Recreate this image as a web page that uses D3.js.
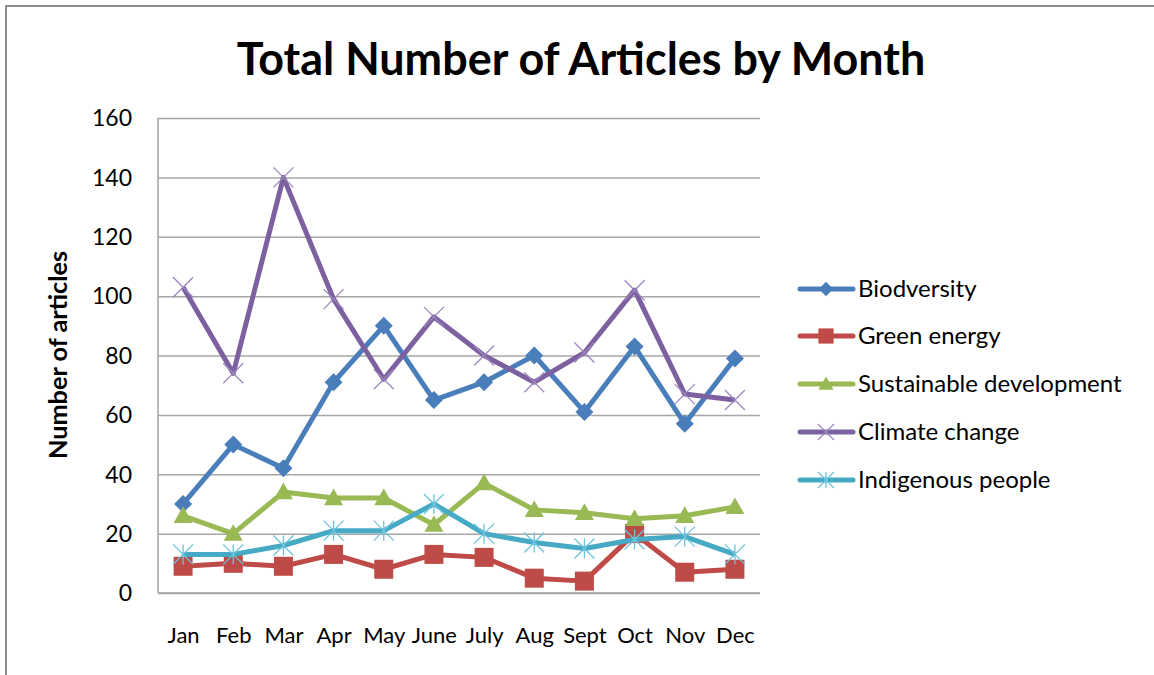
<!DOCTYPE html>
<html>
<head>
<meta charset="utf-8">
<script src="https://cdn.jsdelivr.net/npm/d3@7"></script>
<style>
  html, body { margin: 0; padding: 0; background: #fff; }
  svg { display: block; }
  text { font-family: Lato, "Open Sans", sans-serif; fill: #000; }
</style>
</head>
<body>
<svg id="chart" width="1154" height="675"></svg>
<script>
const months = ["Jan","Feb","Mar","Apr","May","June","July","Aug","Sept","Oct","Nov","Dec"];
const seriesNames = ["Biodversity","Green energy","Sustainable development","Climate change","Indigenous people"];
const biodiversity = [30, 50, 42, 71, 90, 65, 71, 80, 61, 83, 57, 79];
const greenEnergy = [9, 10, 9, 13, 8, 13, 12, 5, 4, 20, 7, 8];
const sustainableDevelopment = [26, 20, 34, 32, 32, 23, 37, 28, 27, 25, 26, 29];
const climateChange = [103, 74, 140, 99, 72, 93, 80, 71, 81, 102, 67, 65];
const indigenousPeople = [13, 13, 16, 21, 21, 30, 20, 17, 15, 18, 19, 13];
const yTicks = [0, 20, 40, 60, 80, 100, 120, 140, 160];
const titleText = "Total Number of Articles by Month";
const yTitle = "Number of articles";

const seriesValues = [biodiversity, greenEnergy, sustainableDevelopment, climateChange, indigenousPeople];
const colors = ["#4A7EBB", "#BE4B48", "#98B954", "#7D60A0", "#46AAC5"];
const markerColors = ["#4A7EBB", "#BE4B48", "#98B954", "#9C88BE", "#6CC3DC"];
const markerTypes = ["diamond", "square", "triangle", "x", "star"];

const svg = d3.select("#chart");
const plot = { left: 158, right: 760, top: 118, bottom: 593 };

// outer frame
svg.append("line").attr("x1", 5).attr("x2", 1154).attr("y1", 6).attr("y2", 6)
  .attr("stroke", "#8c8c8c").attr("stroke-width", 2);
svg.append("line").attr("x1", 6).attr("x2", 6).attr("y1", 5).attr("y2", 675)
  .attr("stroke", "#8c8c8c").attr("stroke-width", 2);

const x = d3.scalePoint().domain(months).range([plot.left, plot.right]).padding(0.5);
const y = d3.scaleLinear().domain([0, 160]).range([plot.bottom, plot.top]);

// gridlines + y axis
const yAxis = d3.axisLeft(y).tickValues(yTicks).tickSize(-(plot.right - plot.left)).tickPadding(26);
const gy = svg.append("g").attr("transform", `translate(${plot.left},0)`).call(yAxis);
gy.select(".domain").remove();
gy.selectAll(".tick line").attr("stroke", "#a6a6a6").attr("stroke-width", 1.5);
gy.selectAll(".tick text").style("font-size", "23px").attr("fill", "#000").attr("dy", "0.34em");

// left axis line
svg.append("line").attr("x1", plot.left).attr("x2", plot.left).attr("y1", plot.top).attr("y2", plot.bottom)
  .attr("stroke", "#a0a0a0").attr("stroke-width", 1.5);

// x axis
const xAxis = d3.axisBottom(x).tickSize(0).tickPadding(34);
const gx = svg.append("g").attr("transform", `translate(0,${plot.bottom})`).call(xAxis);
gx.select(".domain").attr("stroke", "#a0a0a0").attr("stroke-width", 1.5)
  .attr("d", `M${plot.left},0H${plot.right}`);
gx.selectAll(".tick text").style("font-size", "22px").attr("fill", "#000");

// markers
function drawMarker(g, type, cx, cy, color, scale) {
  const s = scale || 1;
  if (type === "diamond") {
    const r = 9 * s;
    g.append("path").attr("d", `M${cx},${cy - r}L${cx + r},${cy}L${cx},${cy + r}L${cx - r},${cy}Z`).attr("fill", color);
  } else if (type === "square") {
    const h = 9.5 * s;
    g.append("rect").attr("x", cx - h).attr("y", cy - h).attr("width", 2 * h).attr("height", 2 * h).attr("fill", color);
  } else if (type === "triangle") {
    const w = 9.5 * s;
    g.append("path").attr("d", `M${cx},${cy - w}L${cx + w},${cy + w * 0.75}L${cx - w},${cy + w * 0.75}Z`).attr("fill", color);
  } else if (type === "x") {
    const r = 10 * s;
    g.append("path").attr("d", `M${cx - r},${cy - r}L${cx + r},${cy + r}M${cx - r},${cy + r}L${cx + r},${cy - r}`)
      .attr("stroke", color).attr("stroke-width", 1.3).attr("fill", "none");
  } else if (type === "star") {
    const r = 10 * s;
    g.append("path").attr("d", `M${cx - r},${cy - r}L${cx + r},${cy + r}M${cx - r},${cy + r}L${cx + r},${cy - r}M${cx},${cy - r}L${cx},${cy + r}`)
      .attr("stroke", color).attr("stroke-width", 1.3).attr("fill", "none");
  }
}

const line = d3.line().x((d, i) => x(months[i])).y(d => y(d));
seriesValues.forEach((vals, si) => {
  const g = svg.append("g");
  g.append("path").datum(vals).attr("d", line).attr("fill", "none")
    .attr("stroke", colors[si]).attr("stroke-width", 5).attr("stroke-linejoin", "round");
  vals.forEach((v, i) => drawMarker(g, markerTypes[si], x(months[i]), y(v), markerColors[si], 1));
});

// legend
const legendY = [289, 336, 384, 432, 480];
const legendTexts = [];
seriesNames.forEach((name, si) => {
  const g = svg.append("g");
  const ly = legendY[si];
  g.append("line").attr("x1", 800).attr("x2", 853).attr("y1", ly).attr("y2", ly)
    .attr("stroke", colors[si]).attr("stroke-width", 5).attr("stroke-linecap", "round");
  drawMarker(g, markerTypes[si], 826, ly, markerColors[si], 0.8);
  legendTexts.push(g.append("text").attr("x", 858).attr("y", ly).attr("dy", "0.35em")
    .style("font-size", "21px").text(name));
});
const lw = legendTexts[2].node().getComputedTextLength();
const lfs = Math.min(24, 21 * 272 / lw);
legendTexts.forEach(t => t.style("font-size", lfs.toFixed(1) + "px"));

// title
const t = svg.append("text").attr("x", 581).attr("y", 75).attr("text-anchor", "middle")
  .style("font-size", "40px").style("font-weight", "bold").text(titleText);
const tw = t.node().getComputedTextLength();
t.style("font-size", (40 * 688 / tw).toFixed(1) + "px");

// y title
const yt = svg.append("text").attr("transform", "translate(58,355) rotate(-90)")
  .attr("text-anchor", "middle").attr("dy", "0.35em")
  .style("font-size", "20px").style("font-weight", "bold").text(yTitle);
const ytw = yt.node().getComputedTextLength();
yt.style("font-size", (20 * 208 / ytw).toFixed(1) + "px");
</script>
</body>
</html>
